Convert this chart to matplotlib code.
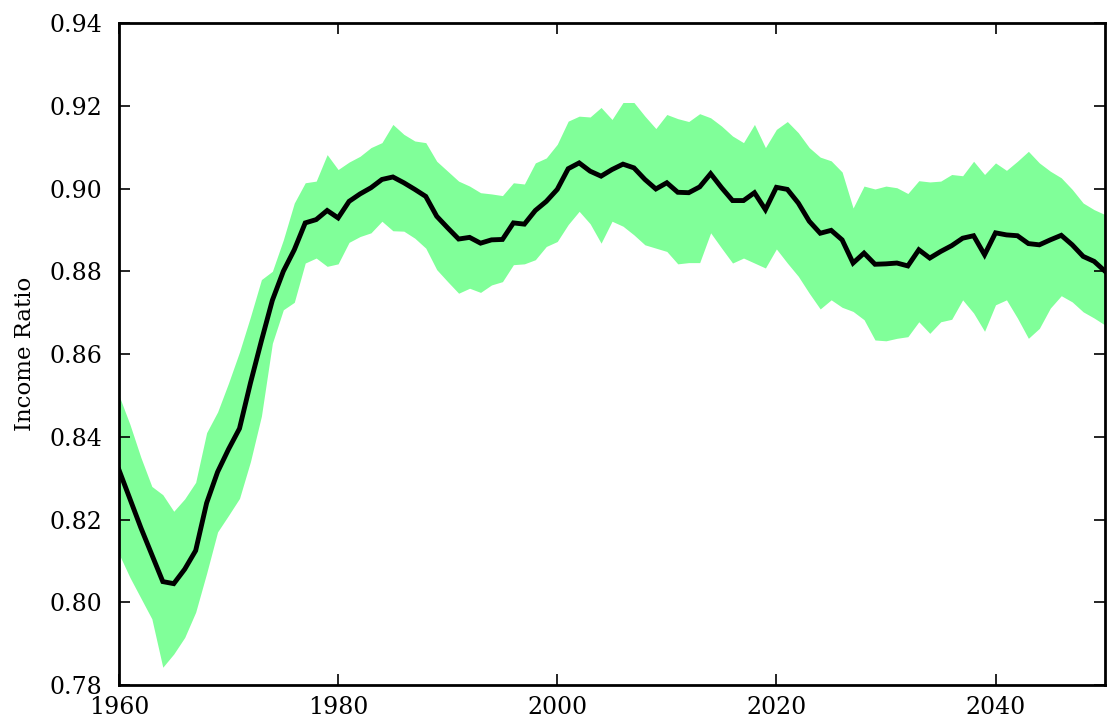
import matplotlib
matplotlib.use("Agg")
import matplotlib.pyplot as plt
import numpy as np

years = list(range(1960, 2051))

ratio_mean = [
    0.832, 0.825, 0.818, 0.8115, 0.805, 0.8045, 0.808, 0.8125, 0.824, 0.8315,
    0.837, 0.8420, 0.853, 0.8632, 0.873, 0.880, 0.8852, 0.8917, 0.8925, 0.8947,
    0.8929, 0.8969, 0.8987, 0.9002, 0.9022, 0.9028, 0.9014, 0.8998, 0.8981, 0.8933,
    0.8905, 0.8878, 0.8882, 0.8868, 0.8876, 0.8877, 0.8917, 0.8914, 0.8947, 0.8969,
    0.8998, 0.9048, 0.9062, 0.9042, 0.9030, 0.9046, 0.9059, 0.9050, 0.9022, 0.8999,
    0.9014, 0.8991, 0.8990, 0.9004, 0.9036, 0.9002, 0.8971, 0.8971, 0.8990, 0.8949,
    0.9003, 0.8998, 0.8965, 0.8921, 0.8892, 0.8899, 0.8876, 0.8820, 0.8844, 0.8817,
    0.8818, 0.8820, 0.8813, 0.8852, 0.8832, 0.8848, 0.8862, 0.8880, 0.8886, 0.8840,
    0.8893, 0.8888, 0.8886, 0.8867, 0.8864, 0.8876, 0.8887, 0.8864, 0.8836, 0.8824,
    0.8800,
]

ratio_upper = [
    0.850, 0.843, 0.835, 0.828, 0.826, 0.822, 0.825, 0.829, 0.841, 0.846,
    0.853, 0.8605, 0.869, 0.878, 0.8800, 0.8876, 0.8965, 0.9014, 0.9018, 0.9082,
    0.9046, 0.9064, 0.9078, 0.9099, 0.9111, 0.9155, 0.9131, 0.9115, 0.9111, 0.9066,
    0.9042, 0.9018, 0.9006, 0.8990, 0.8987, 0.8983, 0.9014, 0.9011, 0.9062, 0.9074,
    0.9107, 0.9163, 0.9175, 0.9173, 0.9196, 0.9167, 0.9208, 0.9208, 0.9175, 0.9145,
    0.9179, 0.9169, 0.9162, 0.9181, 0.9171, 0.9151, 0.9127, 0.9111, 0.9155, 0.9099,
    0.9143, 0.9162, 0.9135, 0.9099, 0.9076, 0.9067, 0.9040, 0.8953, 0.9006, 0.8999,
    0.9006, 0.9002, 0.8988, 0.9019, 0.9016, 0.9018, 0.9034, 0.9031, 0.9066, 0.9034,
    0.9062, 0.9044, 0.9066, 0.9090, 0.9062, 0.9042, 0.9026, 0.8998, 0.8965, 0.8949,
    0.8937,
]

ratio_lower = [
    0.8117, 0.806, 0.801, 0.796, 0.7843, 0.7875, 0.7915, 0.7976, 0.807, 0.817,
    0.821, 0.8251, 0.834, 0.845, 0.8626, 0.8707, 0.8725, 0.8820, 0.8832, 0.8812,
    0.8818, 0.8870, 0.8884, 0.8893, 0.8921, 0.8898, 0.8897, 0.8880, 0.8856, 0.8804,
    0.8775, 0.8747, 0.8759, 0.8749, 0.8767, 0.8775, 0.8816, 0.8818, 0.8828, 0.8860,
    0.8872, 0.8913, 0.8945, 0.8915, 0.8868, 0.8921, 0.8909, 0.8888, 0.8864, 0.8856,
    0.8848, 0.8818, 0.8821, 0.8821, 0.8893, 0.8856, 0.8820, 0.8832, 0.8820, 0.8808,
    0.8854, 0.8820, 0.8788, 0.8747, 0.8709, 0.8731, 0.8713, 0.8703, 0.8683, 0.8634,
    0.8632, 0.8638, 0.8642, 0.8678, 0.8650, 0.8678, 0.8684, 0.8731, 0.8699, 0.8655,
    0.8719, 0.8731, 0.8687, 0.8638, 0.8662, 0.8711, 0.8741, 0.8726, 0.8702, 0.8687,
    0.8670,
]

x_ticks = [1960, 1980, 2000, 2020, 2040]
y_ticks = [0.78, 0.80, 0.82, 0.84, 0.86, 0.88, 0.90, 0.92, 0.94]

plt.rcParams['font.family'] = ['DejaVu Serif']

fig = plt.figure(figsize=(11.14, 7.21), dpi=100)
ax = fig.add_axes([0.1068, 0.0499, 0.992 - 0.1068, 0.968 - 0.0499])

ax.fill_between(years, ratio_lower, ratio_upper, color='#80ff99', linewidth=0)
ax.plot(years, ratio_mean, color='black', linewidth=3.5, solid_joinstyle='miter')

ax.set_xlim(1960, 2050)
ax.set_ylim(0.78, 0.94)
ax.set_xticks(x_ticks)
ax.set_xticklabels([str(t) for t in x_ticks])
ax.set_yticks(y_ticks)
ax.set_yticklabels([f"{t:.2f}" for t in y_ticks])
ax.tick_params(direction='in', length=8, width=1.2, top=True, right=True,
               labelsize=17)
ax.tick_params(axis='y', pad=12)
ax.tick_params(axis='x', pad=8)
for sp in ax.spines.values():
    sp.set_linewidth(2)
ax.set_ylabel("Income Ratio", fontsize=16.5, labelpad=10)

fig.savefig("out.png", dpi=100)
